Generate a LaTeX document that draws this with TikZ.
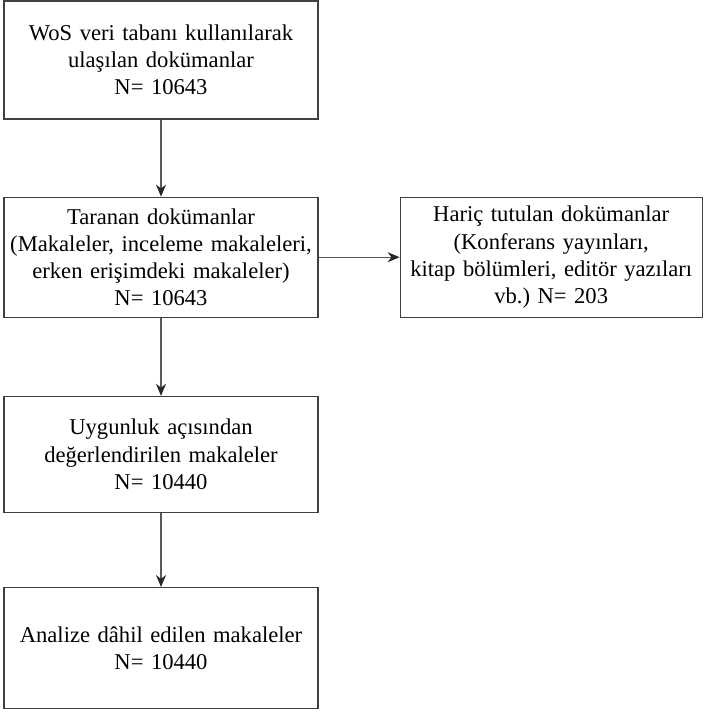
\documentclass[tikz,border=0pt]{standalone}
\usepackage{fontspec}
\setmainfont{Liberation Serif}
\usepackage{tikz}
\usetikzlibrary{positioning,arrows.meta}

\begin{document}
\frenchspacing
\begin{tikzpicture}

        \tikzstyle{flowbox}=[draw=black!75,line width=0.6pt,minimum width=157pt,minimum height=60pt,text width=155pt,align=center,inner sep=1pt,font=\fontsize{11.3}{13.6}\selectfont]
        \tikzstyle{flowarrow}=[draw=black!65,line width=0.6pt,-{Stealth[length=6pt,width=5pt,black!85]}]

        \useasboundingbox (0,0) rectangle (352pt,-357pt);

        %% Main column
        \node [flowbox,minimum height=59pt] (wos) at (80.5pt,-30pt) {WoS veri tabanı kullanılarak\\ ulaşılan dokümanlar\\ N= 10643};
        \node [flowbox,below=38.5pt of wos] (taranan) {Taranan dokümanlar\\ (Makaleler, inceleme makaleleri,\\ erken erişimdeki makaleler)\\ N= 10643};
        \node [flowbox,minimum height=58pt,below=39pt of taranan] (uygun) {Uygunluk açısından\\ değerlendirilen makaleler\\ N= 10440};
        \node [flowbox,minimum height=60.5pt,below=37pt of uygun] (analiz) {Analize dâhil edilen makaleler\\ N= 10440};

        %% Excluded box
        \node [flowbox,minimum width=151pt,text width=149pt,right=40.5pt of taranan] (haric) {Hariç tutulan dokümanlar\\ (Konferans yayınları,\\ kitap bölümleri, editör yazıları\\ vb.) N= 203};

        \draw [flowarrow] (wos) -- (taranan);
        \draw [flowarrow] (taranan) -- (uygun);
        \draw [flowarrow] (uygun) -- (analiz);
        \draw [flowarrow] (taranan) -- (haric);

\end{tikzpicture}
\end{document}
